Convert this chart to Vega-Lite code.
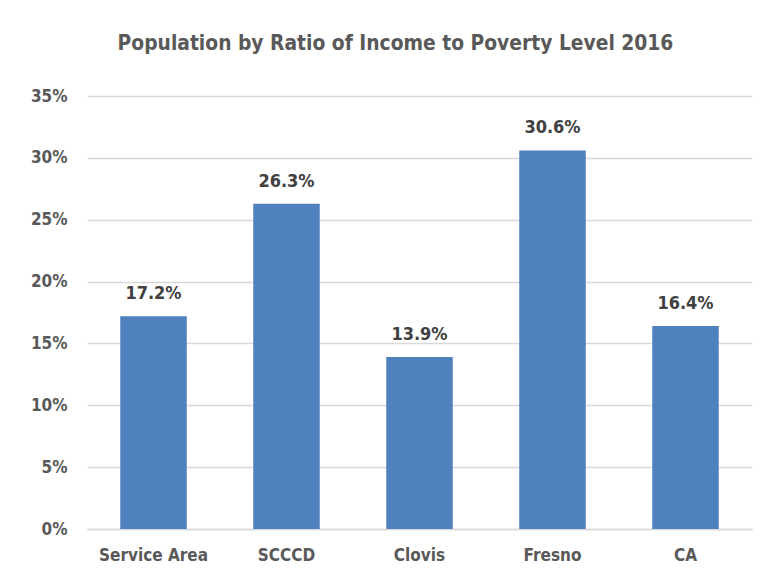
{
  "$schema": "https://vega.github.io/schema/vega-lite/v6.json",
  "autosize": "none",
  "width": 665,
  "height": 433,
  "padding": {"left": 87, "top": 96, "right": 15, "bottom": 50},
  "background": "white",
  "config": {"view": {"stroke": null}, "font": "'DejaVu Sans Condensed', Roboto, sans-serif"},
  "title": {
    "text": "Population by Ratio of Income to Poverty Level 2016",
    "font": "'DejaVu Sans Condensed', Roboto, sans-serif",
    "fontSize": 20.8,
    "fontWeight": "bold",
    "color": "#595959",
    "anchor": "middle",
    "dx": -24,
    "offset": 32
  },
  "data": {
    "values": [
      {"area": "Service Area", "value": 0.172},
      {"area": "SCCCD", "value": 0.263},
      {"area": "Clovis", "value": 0.139},
      {"area": "Fresno", "value": 0.306},
      {"area": "CA", "value": 0.164}
    ]
  },
  "encoding": {
    "x": {
      "field": "area",
      "type": "nominal",
      "sort": null,
      "scale": {"paddingInner": 0.5, "paddingOuter": 0.25},
      "axis": {
        "title": null,
        "labelAngle": 0,
        "labelFont": "'DejaVu Sans Condensed', Roboto, sans-serif",
        "labelFontSize": 17,
        "labelFontWeight": "bold",
        "labelColor": "#595959",
        "labelPadding": 18,
        "ticks": false,
        "domainColor": "#d9d9d9",
        "domainWidth": 1.5
      }
    },
    "y": {
      "field": "value",
      "type": "quantitative",
      "scale": {"domain": [0, 0.35]},
      "axis": {
        "title": null,
        "format": ".0%",
        "values": [0, 0.05, 0.1, 0.15, 0.2, 0.25, 0.3, 0.35],
        "labelFont": "'DejaVu Sans Condensed', Roboto, sans-serif",
        "labelFontSize": 17,
        "labelFontWeight": "bold",
        "labelColor": "#595959",
        "labelPadding": 20,
        "ticks": false,
        "domain": false,
        "gridColor": "#d9d9d9",
        "gridWidth": 1.5
      }
    }
  },
  "layer": [
    {"mark": {"type": "bar", "color": "#4F81BD"}},
    {
      "mark": {
        "type": "text",
        "baseline": "bottom",
        "dy": -13,
        "font": "'DejaVu Sans Condensed', Roboto, sans-serif",
        "fontSize": 18,
        "fontWeight": "bold",
        "color": "#404040"
      },
      "encoding": {"text": {"field": "value", "type": "quantitative", "format": ".1%"}}
    }
  ]
}
